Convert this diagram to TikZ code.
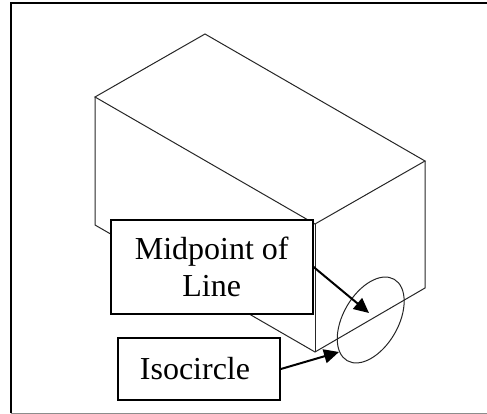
\documentclass[tikz,border=0pt]{standalone}
\usepackage{fontspec}
\setmainfont{Liberation Serif}
\usetikzlibrary{arrows.meta}

\tikzset{
  edge/.style = {line width=1pt, black!85},
  label box/.style = {draw, line width=1.8pt, fill=white, align=center, font=\fontsize{32}{37}\selectfont},
  pointer/.style = {-{Triangle[length=15pt,width=14pt]}, line width=2pt}
}

\begin{document}
\begin{tikzpicture}[x=1pt, y=1pt]
  \useasboundingbox (0,0) rectangle (487,414);

  % Cornice esterna
  \draw[line width=2.2pt] (11,0.5) -- (11,411) -- (487,411);
  \draw[line width=1pt, black!45] (11,0.8) -- (487,0.8);

  % Vertici del blocco
  \coordinate (T) at (205,380); % Vertice in alto
  \coordinate (L) at (95,317); % Vertice sinistro
  \coordinate (R) at (425,253); % Vertice destro
  \coordinate (F) at (315,190); % Spigolo anteriore
  \coordinate (LB) at (95,189);
  \coordinate (RB) at (425,126);
  \coordinate (FB) at (315,62);

  % Faccia superiore e spigoli
  \draw[edge] (T) -- (L) -- (F) -- (R) -- cycle;
  \draw[edge] (L) -- (LB) -- (FB) -- (RB) -- (R);
  \draw[edge] (F) -- (FB);

  % Isocerchio
  \draw[edge] (370.7,94) ellipse[x radius=47, y radius=27.5, rotate=60];

  % Etichette
  \node[label box, minimum width=202pt, minimum height=94pt] (midpoint) at (211.7,147) {Midpoint of\\Line};
  \node[label box, minimum width=162pt, minimum height=62pt] (isocircle) at (199,45) {Isocircle\ };

  % Frecce
  \coordinate (midpoint tip) at (369,101);
  \coordinate (isocircle tip) at (339,62);
  \draw[pointer] (midpoint.east) -- (midpoint tip);
  \draw[pointer] (isocircle.east) -- (isocircle tip);
\end{tikzpicture}
\end{document}
